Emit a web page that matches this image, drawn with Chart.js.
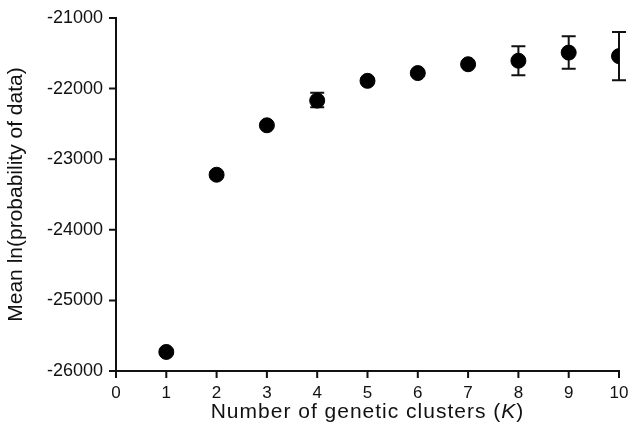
<!DOCTYPE html>
<html>
<head>
<meta charset="utf-8">
<script src="https://cdn.jsdelivr.net/npm/chart.js@4"></script>
<style>
  html, body { margin: 0; padding: 0; background: #fff; }
</style>
</head>
<body>
<canvas id="kChart" width="632" height="431"></canvas>
<script>
const clusters = [1, 2, 3, 4, 5, 6, 7, 8, 9, 10];
const meanLnP = [-25730, -23220, -22520, -22170, -21890, -21780, -21655, -21605, -21490, -21540];
const errLow = [-25760, -23250, -22550, -22265, -21920, -21810, -21685, -21810, -21720, -21880];
const errHigh = [-25700, -23190, -22490, -22060, -21860, -21750, -21625, -21400, -21260, -21200];

const TICK = 7;

// error bars with caps, drawn under the dots
const errorBars = {
  id: 'errorBars',
  beforeDatasetsDraw(chart) {
    const { ctx, scales: { x, y } } = chart;
    ctx.save();
    ctx.strokeStyle = '#111';
    ctx.lineWidth = 2;
    clusters.forEach((k, i) => {
      const px = x.getPixelForValue(k);
      const top = y.getPixelForValue(errHigh[i]);
      const bot = y.getPixelForValue(errLow[i]);
      ctx.beginPath();
      ctx.moveTo(px, top); ctx.lineTo(px, bot);
      ctx.moveTo(px - 7, top); ctx.lineTo(px + 7, top);
      ctx.moveTo(px - 7, bot); ctx.lineTo(px + 7, bot);
      ctx.stroke();
    });
    ctx.restore();
  }
};

// outward tick marks on both axes
const outTicks = {
  id: 'outTicks',
  afterDraw(chart) {
    const { ctx, chartArea, scales: { x, y } } = chart;
    ctx.save();
    ctx.strokeStyle = '#111';
    ctx.lineWidth = 2;
    ctx.beginPath();
    x.ticks.forEach(t => {
      const px = x.getPixelForValue(t.value);
      ctx.moveTo(px, chartArea.bottom); ctx.lineTo(px, chartArea.bottom + TICK);
    });
    y.ticks.forEach(t => {
      const py = y.getPixelForValue(t.value);
      ctx.moveTo(chartArea.left, py); ctx.lineTo(chartArea.left - TICK, py);
    });
    ctx.stroke();
    ctx.restore();
  }
};

// x axis title with an italic K
const xTitle = {
  id: 'xTitle',
  afterDraw(chart) {
    const { ctx, chartArea } = chart;
    const parts = [
      ['Number of genetic clusters (', 'normal'],
      ['K', 'italic'],
      [')', 'normal']
    ];
    ctx.save();
    ctx.fillStyle = '#111';
    ctx.textBaseline = 'middle';
    ctx.letterSpacing = '1px';
    let total = 0;
    parts.forEach(p => {
      ctx.font = p[1] + ' 21px "Liberation Sans"';
      total += ctx.measureText(p[0]).width;
    });
    let cx = (chartArea.left + chartArea.right) / 2 - total / 2;
    const cy = chartArea.bottom + 41;
    parts.forEach(p => {
      ctx.font = p[1] + ' 21px "Liberation Sans"';
      ctx.fillText(p[0], cx, cy);
      cx += ctx.measureText(p[0]).width;
    });
    ctx.restore();
  }
};

const ctx = document.getElementById('kChart');

new Chart(ctx, {
  type: 'scatter',
  data: {
    datasets: [{
      data: clusters.map((k, i) => ({ x: k, y: meanLnP[i] })),
      backgroundColor: '#000',
      borderColor: '#000',
      pointRadius: 7.5,
      pointHoverRadius: 7.5
    }]
  },
  options: {
    responsive: false,
    animation: false,
    layout: { padding: { top: 18, right: 13, left: 0, bottom: 0 } },
    plugins: { legend: { display: false }, tooltip: { enabled: false } },
    scales: {
      x: {
        type: 'linear',
        min: 0,
        max: 10,
        afterFit(scale) {
          scale.height = 60;
          scale.paddingLeft = 0;
          scale.paddingRight = 0;
        },
        border: { color: '#111', width: 2 },
        grid: { display: false, drawTicks: false },
        ticks: { stepSize: 1, color: '#111', padding: 12, font: { family: 'Liberation Sans', size: 17 } }
      },
      y: {
        min: -26000,
        max: -21000,
        afterFit(scale) {
          scale.width = 116;
          scale.paddingTop = 0;
          scale.paddingBottom = 0;
        },
        border: { color: '#111', width: 2 },
        grid: { display: false, drawTicks: false },
        ticks: {
          stepSize: 1000,
          color: '#111',
          padding: 13,
          font: { family: 'Liberation Sans', size: 18 },
          callback: (v) => String(v)
        },
        title: {
          display: true,
          text: 'Mean ln(probability of data)',
          color: '#111',
          padding: { bottom: 0 },
          font: { family: 'Liberation Sans', size: 21 }
        }
      }
    }
  },
  plugins: [errorBars, outTicks, xTitle]
});
</script>
</body>
</html>
